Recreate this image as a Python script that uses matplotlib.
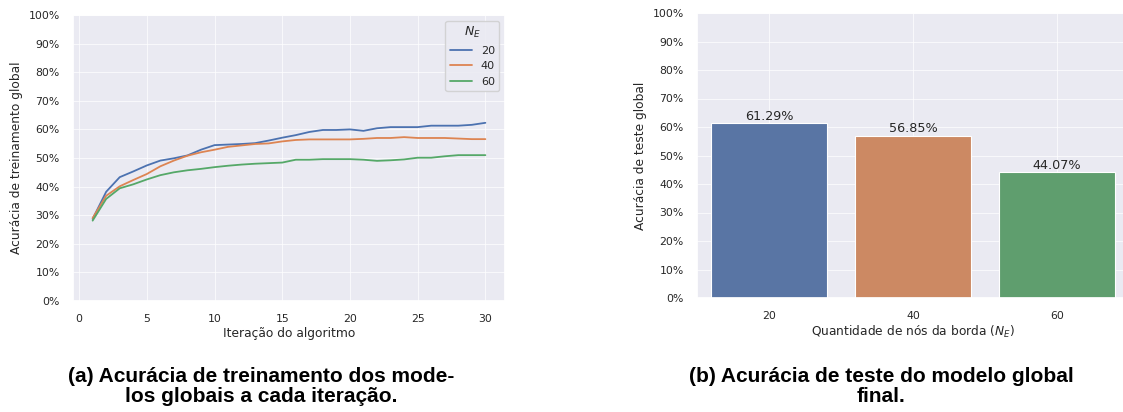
import matplotlib
matplotlib.use("Agg")
import matplotlib.pyplot as plt
import seaborn as sns
from matplotlib.ticker import PercentFormatter

# dados
iteracoes = list(range(1, 31))
acc_ne20 = [28.7, 38.2, 43.3, 45.3, 47.4, 49.1, 49.9, 50.9, 52.9, 54.5,
            54.7, 54.9, 55.2, 56.1, 57.1, 58.0, 59.1, 59.8, 59.8, 60.0,
            59.5, 60.4, 60.8, 60.8, 60.8, 61.3, 61.3, 61.3, 61.6, 62.3]
acc_ne40 = [29.0, 36.8, 40.1, 42.3, 44.4, 47.1, 49.1, 50.8, 52.0, 52.9,
            53.9, 54.4, 54.9, 55.1, 55.8, 56.3, 56.5, 56.5, 56.5, 56.5,
            56.7, 57.0, 57.0, 57.3, 57.0, 57.0, 57.0, 56.8, 56.6, 56.6]
acc_ne60 = [28.1, 35.7, 39.4, 40.8, 42.5, 44.0, 45.0, 45.7, 46.2, 46.8,
            47.3, 47.7, 48.0, 48.2, 48.4, 49.4, 49.4, 49.6, 49.6, 49.6,
            49.4, 49.0, 49.2, 49.5, 50.1, 50.1, 50.6, 51.0, 51.0, 51.0]
n_e = ["20", "40", "60"]
acc_teste = [61.29, 56.85, 44.07]

cores_linha = ["#4c72b0", "#dd8452", "#55a868"]
cores_barra = ["#5975a4", "#cc8963", "#5f9e6e"]

sns.set_theme(style="darkgrid", rc={"grid.linewidth": 0.5})
plt.rcParams["font.family"] = ["DejaVu Sans"]

fig = plt.figure(figsize=(11.23, 4.12), dpi=100)
H = 412.0
W = 1123.0

# (a) treinamento
ax1 = fig.add_axes([73 / W, 1 - 301 / H, 432 / W, 286 / H])
for serie, rot, cor in zip([acc_ne20, acc_ne40, acc_ne60], n_e, cores_linha):
    ax1.plot(iteracoes, serie, color=cor, lw=1.3, label=rot)
ax1.set_ylim(0, 100)
ax1.set_yticks(range(0, 101, 10))
ax1.yaxis.set_major_formatter(PercentFormatter(100, decimals=0))
ax1.set_xticks(range(0, 31, 5))
ax1.set_xlabel("Iteração do algoritmo", fontsize=8.8, labelpad=2)
ax1.set_ylabel("Acurácia de treinamento global", fontsize=8.8)
ax1.tick_params(labelsize=7.8)
ax1.legend(title="$N_E$", loc="upper right", fontsize=8, title_fontsize=9)

# (b) teste
ax2 = fig.add_axes([697 / W, 1 - 298 / H, 432 / W, 285 / H])
ax2.bar(range(len(n_e)), acc_teste, width=0.8, color=cores_barra,
        edgecolor="white", linewidth=0.8)
for i, v in enumerate(acc_teste):
    ax2.annotate(f"{v:.2f}%", (i, v), ha="center", va="bottom",
                 fontsize=9.2, color="0.15", xytext=(0, 0.5),
                 textcoords="offset points")
ax2.set_xlim(-0.5, 2.5)
ax2.set_ylim(0, 100)
ax2.set_yticks(range(0, 101, 10))
ax2.yaxis.set_major_formatter(PercentFormatter(100, decimals=0))
ax2.set_xticks(range(len(n_e)))
ax2.set_xticklabels(n_e)
ax2.set_xlabel("Quantidade de nós da borda ($N_E$)", fontsize=8.8, labelpad=2)
ax2.set_ylabel("Acurácia de teste global", fontsize=8.8)
ax2.tick_params(labelsize=7.8)

# legendas das subfiguras
cap = dict(fontsize=15, fontweight="bold", family="Liberation Sans",
           va="baseline", ha="center", color="black")
fig.text(261 / W, 1 - 382 / H, "(a) Acurácia de treinamento dos mode-", **cap)
fig.text(261 / W, 1 - 402 / H, "los globais a cada iteração.", **cap)
fig.text(881 / W, 1 - 382 / H, "(b) Acurácia de teste do modelo global", **cap)
fig.text(881 / W, 1 - 402 / H, "final.", **cap)

fig.savefig("out.png", dpi=100)
